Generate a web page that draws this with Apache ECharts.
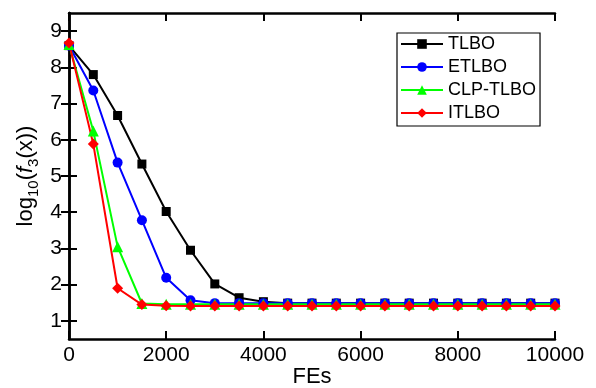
<!DOCTYPE html>
<html>
<head>
<meta charset="utf-8">
<script src="https://cdn.jsdelivr.net/npm/echarts@6.0.0/dist/echarts.min.js"></script>
<style>
  html, body { margin: 0; padding: 0; background: #fff; }
  #chart { width: 596px; height: 388px; }
</style>
</head>
<body>
<div id="chart"></div>
<script>
// function evaluations (x axis)
const fes = [0, 500, 1000, 1500, 2000, 2500, 3000, 3500, 4000, 4500, 5000,
  5500, 6000, 6500, 7000, 7500, 8000, 8500, 9000, 9500, 10000];

// log10(f3(x))
const tlbo = [8.6, 7.8, 6.67, 5.33, 4.02, 2.95, 2.02, 1.64, 1.53, 1.49, 1.49,
  1.49, 1.49, 1.49, 1.49, 1.49, 1.49, 1.49, 1.49, 1.49, 1.49];
const etlbo = [8.6, 7.36, 5.37, 3.78, 2.19, 1.57, 1.49, 1.49, 1.49, 1.49, 1.49,
  1.49, 1.49, 1.49, 1.49, 1.49, 1.49, 1.49, 1.49, 1.49, 1.49];
const clpTlbo = [8.63, 6.24, 3.05, 1.48, 1.46, 1.46, 1.46, 1.46, 1.46, 1.46, 1.46,
  1.46, 1.46, 1.46, 1.46, 1.46, 1.46, 1.46, 1.46, 1.46, 1.46];
const itlbo = [8.67, 5.88, 1.9, 1.45, 1.42, 1.41, 1.41, 1.41, 1.41, 1.41, 1.41,
  1.41, 1.41, 1.41, 1.41, 1.41, 1.41, 1.41, 1.41, 1.41, 1.41];

const yTicks = [1, 2, 3, 4, 5, 6, 7, 8, 9];

const font = 'Liberation Sans';

const chart = echarts.init(document.getElementById('chart'));

const toPairs = (vals) => fes.map((x, i) => [x, vals[i]]);

const makeSeries = (name, vals, color, symbol, size) => ({
  name,
  type: 'line',
  data: toPairs(vals),
  symbol,
  symbolSize: size,
  showAllSymbol: true,
  lineStyle: { color, width: 2 },
  itemStyle: { color },
  emphasis: { disabled: true },
});

const frame = { show: true, lineStyle: { color: '#000', width: 2.5 } };
const tick = { show: true, inside: true, length: 8, lineStyle: { color: '#000', width: 2 } };

const option = {
  animation: false,
  backgroundColor: '#fff',
  grid: {
    left: 69, top: 13, width: 486, height: 326,
    containLabel: false,
    outerBoundsMode: 'none',
  },
  legend: {
    orient: 'vertical',
    left: 397,
    top: 33,
    padding: [2, 4, 4, 3],
    itemGap: 5,
    itemWidth: 42,
    itemHeight: 12,
    borderColor: '#000',
    borderWidth: 1.2,
    backgroundColor: '#fff',
    textStyle: { fontFamily: font, fontSize: 18, color: '#000', lineHeight: 18 },
    data: ['TLBO', 'ETLBO', 'CLP-TLBO', 'ITLBO'],
  },
  xAxis: [
    {
      type: 'value',
      min: 0,
      max: 10000,
      interval: 2000,
      name: 'FEs',
      nameLocation: 'middle',
      nameGap: 27,
      nameMoveOverlap: false,
      nameTextStyle: { fontFamily: font, fontSize: 22, color: '#000' },
      axisLine: frame,
      axisTick: tick,
      axisLabel: {
        fontFamily: font, fontSize: 21, color: '#000', margin: 6,
        formatter: (v) => String(v),
      },
      splitLine: { show: false },
    },
    {
      type: 'value',
      position: 'top',
      min: 0,
      max: 10000,
      interval: 2000,
      axisLine: frame,
      axisTick: tick,
      axisLabel: { show: false },
      splitLine: { show: false },
    },
  ],
  yAxis: [
    {
      type: 'value',
      min: 0.5,
      max: 9.5,
      name: '{a|log}{s|10}{a|(}{i|f}{s|3}{a|(x))}',
      nameLocation: 'middle',
      nameRotate: 90,
      nameGap: 28,
      nameMoveOverlap: false,
      nameTextStyle: {
        fontFamily: font,
        fontSize: 22,
        color: '#000',
        rich: {
          a: { fontFamily: font, fontSize: 22, color: '#000', lineHeight: 30 },
          i: { fontFamily: font, fontSize: 22, fontStyle: 'italic', color: '#000', lineHeight: 30 },
          s: { fontFamily: font, fontSize: 15, color: '#000', lineHeight: 15, verticalAlign: 'bottom' },
        },
      },
      axisLine: frame,
      axisTick: Object.assign({ customValues: yTicks }, tick),
      axisLabel: { customValues: yTicks, fontFamily: font, fontSize: 21, color: '#000', margin: 7 },
      splitLine: { show: false },
    },
    {
      type: 'value',
      position: 'right',
      min: 0.5,
      max: 9.5,
      axisLine: frame,
      axisTick: Object.assign({ customValues: yTicks }, tick),
      axisLabel: { show: false, customValues: yTicks },
      splitLine: { show: false },
    },
  ],
  series: [
    makeSeries('TLBO', tlbo, '#000000', 'rect', 9),
    makeSeries('ETLBO', etlbo, '#0000ff', 'circle', 10),
    makeSeries('CLP-TLBO', clpTlbo, '#00ff00', 'triangle', 11),
    makeSeries('ITLBO', itlbo, '#ff0000', 'diamond', 11),
  ],
};

chart.setOption(option);
</script>
</body>
</html>
